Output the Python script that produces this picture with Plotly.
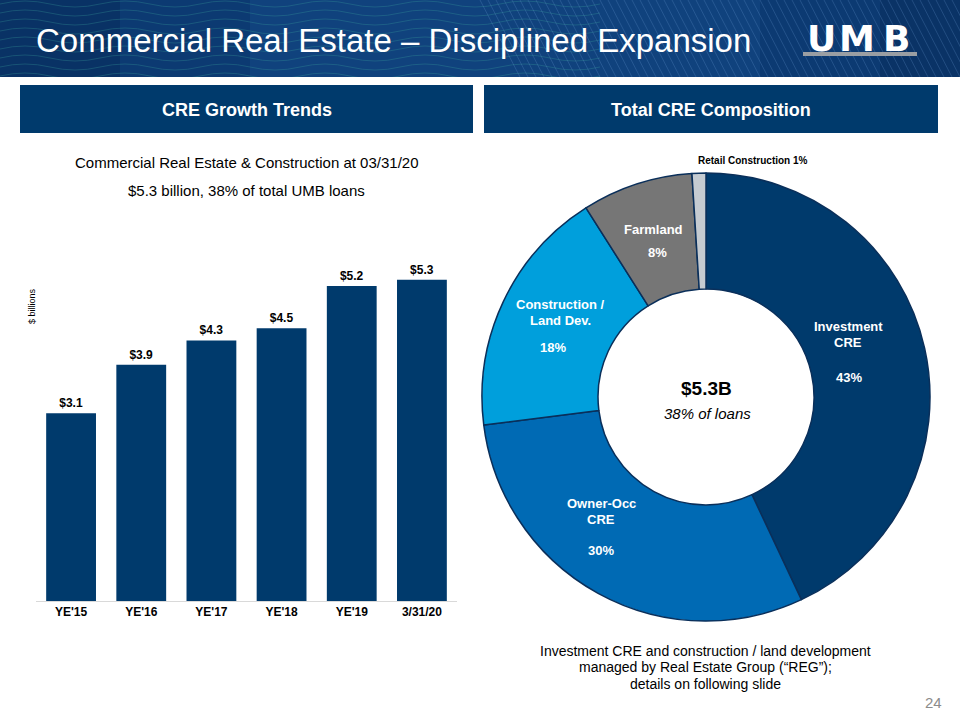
import plotly.graph_objects as go

# ---------------- data ----------------
bar_categories = ["YE'15", "YE'16", "YE'17", "YE'18", "YE'19", "3/31/20"]
bar_values = [3.1, 3.9, 4.3, 4.5, 5.2, 5.3]

pie_labels = ["Investment CRE", "Owner-Occ CRE", "Construction / Land Dev.", "Farmland", "Retail Construction"]
pie_values = [43, 30, 18, 8, 1]
pie_colors = ["#003a6c", "#006ab4", "#009fdc", "#767676", "#c5cbd1"]

W, H = 960, 720
FONT = "Liberation Sans, Arial, sans-serif"
NAVY = "#003a6c"


def px(x):
    return x / W


def py(y):
    return 1 - y / H


fig = go.Figure()

# ---------------- bar chart ----------------
fig.add_trace(go.Bar(
    x=bar_categories,
    y=bar_values,
    marker=dict(color=NAVY, line=dict(width=0)),
    text=[f"<b>${v:.1f}</b>" for v in bar_values],
    textposition="outside",
    textfont=dict(family=FONT, size=12, color="#000000"),
    cliponaxis=False,
    xaxis="x", yaxis="y",
    showlegend=False,
    hoverinfo="skip",
))

# ---------------- donut ----------------
fig.add_trace(go.Pie(
    labels=pie_labels,
    values=pie_values,
    hole=0.482,
    sort=False,
    direction="clockwise",
    rotation=0,
    marker=dict(colors=pie_colors, line=dict(color="#0a2f5a", width=1.5)),
    textinfo="none",
    domain=dict(x=[px(482), px(930)], y=[py(621), py(173)]),
    showlegend=False,
    hoverinfo="skip",
))

shapes = []
annotations = []

# ---------------- header banner ----------------
shapes.append(dict(type="rect", xref="paper", yref="paper", x0=0, x1=1, y0=py(77), y1=1,
                   fillcolor="#0c3a72", line=dict(width=0), layer="below"))
shapes.append(dict(type="rect", xref="paper", yref="paper", x0=px(250), x1=px(760), y0=py(77), y1=1,
                   fillcolor="#1a5aa0", opacity=0.25, line=dict(width=0), layer="below"))
shapes.append(dict(type="rect", xref="paper", yref="paper", x0=0, x1=px(120), y0=py(77), y1=1,
                   fillcolor="#06254d", opacity=0.35, line=dict(width=0), layer="below"))
shapes.append(dict(type="rect", xref="paper", yref="paper", x0=px(880), x1=1, y0=py(77), y1=1,
                   fillcolor="#06254d", opacity=0.3, line=dict(width=0), layer="below"))

# decorative wave lines (left part of banner)
for k in range(9):
    y0 = 4 + k * 9
    path = f"M {px(0)},{py(y0)}"
    x = 0
    up = True
    while x < 560:
        xm = x + 25
        xe = x + 50
        yc = y0 - 6 if up else y0 + 6
        path += f" Q {px(xm)},{py(yc)} {px(xe)},{py(y0)}"
        x = xe
        up = not up
    shapes.append(dict(type="path", xref="paper", yref="paper", path=path,
                       line=dict(color="#3fa9a0", width=0.8), opacity=0.35, layer="below"))

# decorative diagonal lines (right part of banner)
for k in range(60):
    xs = 480 + k * 8
    shapes.append(dict(type="line", xref="paper", yref="paper",
                       x0=px(xs), y0=py(0), x1=px(xs + 40), y1=py(77),
                       line=dict(color="#6f9fd8", width=0.8), opacity=0.3, layer="below"))

# white mask below banner (clip decorative lines)
shapes.append(dict(type="rect", xref="paper", yref="paper", x0=0, x1=1, y0=0, y1=py(77),
                   fillcolor="#ffffff", line=dict(width=0), layer="below"))

annotations.append(dict(text="Commercial Real Estate – Disciplined Expansion", x=px(34), y=py(40),
                        xref="paper", yref="paper", xanchor="left", yanchor="middle", showarrow=False,
                        font=dict(family=FONT, size=33, color="#ffffff")))

# UMB logo
for ch, cx in [("U", 821), ("M", 857), ("B", 896)]:
    annotations.append(dict(text=f"<b>{ch}</b>", x=px(cx), y=py(38), xref="paper", yref="paper",
                            xanchor="center", yanchor="middle", showarrow=False,
                            font=dict(family="DejaVu Sans, sans-serif", size=36, color="#ffffff")))
shapes.append(dict(type="rect", xref="paper", yref="paper", x0=px(803), x1=px(917), y0=py(56), y1=py(52),
                   fillcolor="#9a9ea3", line=dict(width=0)))

# ---------------- section header boxes ----------------
for x0, x1, label in [(20, 473, "CRE Growth Trends"), (484, 938, "Total CRE Composition")]:
    shapes.append(dict(type="rect", xref="paper", yref="paper", x0=px(x0), x1=px(x1), y0=py(133), y1=py(85),
                       fillcolor=NAVY, line=dict(width=0)))
    annotations.append(dict(text=f"<b>{label}</b>", x=px((x0 + x1) / 2), y=py(110), xref="paper", yref="paper",
                            xanchor="center", yanchor="middle", showarrow=False,
                            font=dict(family=FONT, size=18, color="#ffffff")))

# ---------------- bar chart texts ----------------
annotations.append(dict(text="Commercial Real Estate & Construction at 03/31/20", x=px(247), y=py(163),
                        xref="paper", yref="paper", xanchor="center", yanchor="middle", showarrow=False,
                        font=dict(family=FONT, size=15, color="#000000")))
annotations.append(dict(text="$5.3 billion, 38% of total UMB loans", x=px(247), y=py(191),
                        xref="paper", yref="paper", xanchor="center", yanchor="middle", showarrow=False,
                        font=dict(family=FONT, size=15, color="#000000")))
annotations.append(dict(text="$ billions", x=px(32), y=py(306), xref="paper", yref="paper",
                        xanchor="center", yanchor="middle", showarrow=False, textangle=-90,
                        font=dict(family=FONT, size=9, color="#000000")))

# ---------------- donut labels ----------------
def lab(text, x, y, size=13, color="#ffffff", bold=True, italic=False):
    t = text
    if bold:
        t = f"<b>{t}</b>"
    if italic:
        t = f"<i>{t}</i>"
    annotations.append(dict(text=t, x=px(x), y=py(y), xref="paper", yref="paper",
                            xanchor="center", yanchor="middle", showarrow=False,
                            font=dict(family=FONT, size=size, color=color)))

lab("Investment", 848, 327)
lab("CRE", 848, 342)
lab(f"{pie_values[0]}%", 849, 377)
lab("Owner-Occ", 601, 503)
lab("CRE", 601, 519)
lab(f"{pie_values[1]}%", 601, 550)
lab("Construction /", 560, 304)
lab("Land Dev.", 560, 320)
lab(f"{pie_values[2]}%", 553, 347)
lab("Farmland", 653, 230)
lab(f"{pie_values[3]}%", 657, 253)
lab(f"Retail Construction {pie_values[4]}%", 753, 160, size=10, color="#000000")
lab("$5.3B", 706, 388, size=19, color="#000000")
lab("38% of loans", 707, 413, size=15, color="#000000", bold=False, italic=True)

# ---------------- footnote ----------------
for y, t in [(651, "Investment CRE and construction / land development"),
             (667, "managed by Real Estate Group (“REG”);"),
             (684, "details on following slide")]:
    lab(t, 705, y, size=14, color="#000000", bold=False)
annotations.append(dict(text="24", x=px(933), y=py(702), xref="paper", yref="paper",
                        xanchor="center", yanchor="middle", showarrow=False,
                        font=dict(family=FONT, size=15, color="#8c8c8c")))

fig.update_layout(
    width=W, height=H,
    margin=dict(l=0, r=0, t=0, b=0),
    paper_bgcolor="#ffffff",
    plot_bgcolor="#ffffff",
    font=dict(family=FONT),
    bargap=0.29,
    xaxis=dict(domain=[px(36), px(457)], showgrid=False, showline=True, linecolor="#d9d9d9", linewidth=1,
               ticks="", tickvals=bar_categories, ticktext=[f"<b>{c}</b>" for c in bar_categories],
               tickfont=dict(family=FONT, size=12, color="#000000"), fixedrange=True),
    yaxis=dict(domain=[py(601), py(237.4)], range=[0, 6], visible=False, fixedrange=True),
    shapes=shapes,
    annotations=annotations,
)

fig.write_html(
    "out.html",
    config={"displayModeBar": False},
    post_script="document.body.style.margin='0';document.body.style.padding='0';document.body.style.overflow='hidden';",
)
